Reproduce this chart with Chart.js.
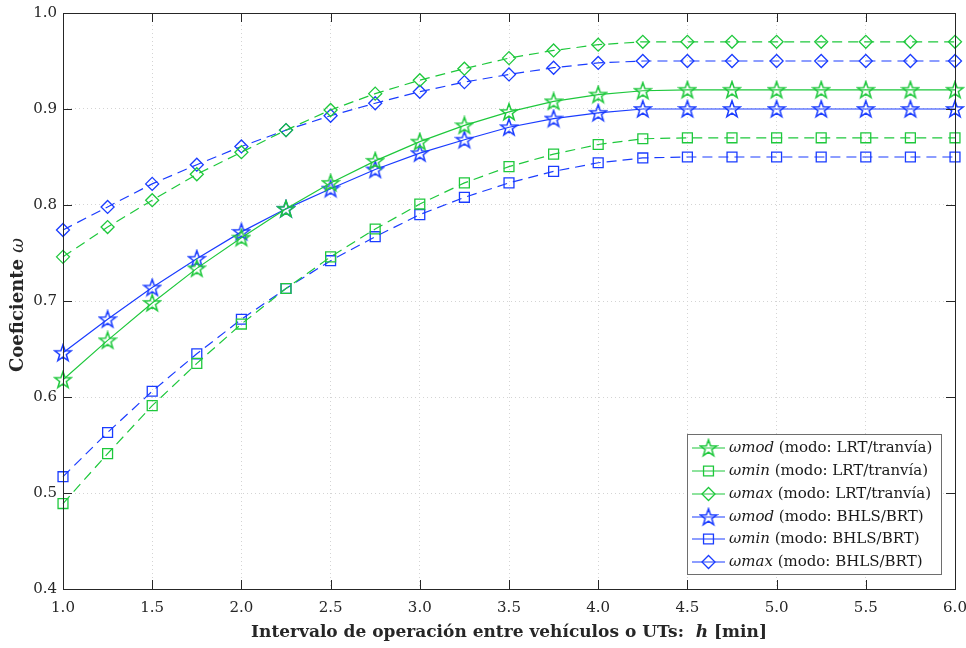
<!DOCTYPE html>
<html>
<head>
<meta charset="utf-8">
<script src="https://cdn.jsdelivr.net/npm/chart.js@4.4.1/dist/chart.umd.min.js"></script>
<style>
  html, body { margin: 0; padding: 0; background: #fff; }
</style>
</head>
<body>
<canvas id="chart" width="966" height="648"></canvas>
<script>
// headway h [min]
var hVals = [1.0, 1.25, 1.5, 1.75, 2.0, 2.25, 2.5, 2.75, 3.0, 3.25, 3.5, 3.75, 4.0, 4.25, 4.5, 4.75, 5.0, 5.25, 5.5, 5.75, 6.0];

var modLRT = [0.618, 0.659, 0.698, 0.734, 0.766, 0.796, 0.823, 0.846, 0.866, 0.883, 0.897, 0.908, 0.915, 0.919, 0.92, 0.92, 0.92, 0.92, 0.92, 0.92, 0.92];
var minLRT = [0.489, 0.541, 0.591, 0.635, 0.676, 0.713, 0.746, 0.775, 0.801, 0.823, 0.840, 0.853, 0.863, 0.869, 0.87, 0.87, 0.87, 0.87, 0.87, 0.87, 0.87];
var maxLRT = [0.746, 0.777, 0.805, 0.832, 0.855, 0.878, 0.899, 0.916, 0.930, 0.942, 0.953, 0.961, 0.967, 0.970, 0.97, 0.97, 0.97, 0.97, 0.97, 0.97, 0.97];
var modBRT = [0.646, 0.681, 0.714, 0.744, 0.772, 0.796, 0.817, 0.837, 0.854, 0.868, 0.881, 0.890, 0.896, 0.900, 0.90, 0.90, 0.90, 0.90, 0.90, 0.90, 0.90];
var minBRT = [0.517, 0.563, 0.606, 0.645, 0.681, 0.713, 0.742, 0.767, 0.790, 0.808, 0.823, 0.835, 0.844, 0.849, 0.85, 0.85, 0.85, 0.85, 0.85, 0.85, 0.85];
var maxBRT = [0.774, 0.798, 0.822, 0.842, 0.861, 0.878, 0.893, 0.906, 0.918, 0.928, 0.936, 0.943, 0.948, 0.950, 0.95, 0.95, 0.95, 0.95, 0.95, 0.95, 0.95];

var seriesNames = ['mod', 'min', 'max', 'mod', 'min', 'max'];
var modeNames = [' (modo: LRT/tranvía)', ' (modo: LRT/tranvía)', ' (modo: LRT/tranvía)',
                 ' (modo: BHLS/BRT)', ' (modo: BHLS/BRT)', ' (modo: BHLS/BRT)'];

var xTicks = [1.0, 1.5, 2.0, 2.5, 3.0, 3.5, 4.0, 4.5, 5.0, 5.5, 6.0];
var yTicks = [0.4, 0.5, 0.6, 0.7, 0.8, 0.9, 1.0];

var GREEN = '#1ec83c';
var BLUE = '#1a3cff';
var SERIF = '"DejaVu Serif", "Liberation Serif", serif';

// five pointed outline star (MATLAB pentagram) as a point image
function makeStar(color) {
    var c = document.createElement('canvas');
    c.width = 20; c.height = 20;
    var g = c.getContext('2d');
    var R = 8.8, r = 3.5, cx = 10, cy = 10.6;
    g.beginPath();
    for (var i = 0; i < 10; i++) {
        var rad = (i % 2 === 0) ? R : r;
        var a = -Math.PI / 2 + i * Math.PI / 5;
        var px = cx + rad * Math.cos(a), py = cy + rad * Math.sin(a);
        if (i === 0) g.moveTo(px, py); else g.lineTo(px, py);
    }
    g.closePath();
    g.strokeStyle = color;
    g.lineWidth = 1.5;
    g.stroke();
    return c;
}
var starG = makeStar(GREEN);
var starB = makeStar(BLUE);

function pts(arr) {
    return arr.map(function (v, i) { return {x: hVals[i], y: v}; });
}

function ds(label, arr, color, style, radius, dashed) {
    return {
        label: label,
        data: pts(arr),
        borderColor: color,
        backgroundColor: 'rgba(0,0,0,0)',
        borderWidth: 1.2,
        borderDash: dashed ? [10, 6] : [],
        tension: 0,
        fill: false,
        clip: false,
        pointStyle: style,
        pointRadius: radius,
        pointHoverRadius: radius,
        pointBorderColor: color,
        pointBackgroundColor: 'rgba(0,0,0,0)',
        pointBorderWidth: 1.3
    };
}

var datasets = [
    ds('ωmod LRT', modLRT, GREEN, starG, 8, false),
    ds('ωmin LRT', minLRT, GREEN, 'rect', 7, true),
    ds('ωmax LRT', maxLRT, GREEN, 'rectRot', 6.5, true),
    ds('ωmod BRT', modBRT, BLUE, starB, 8, false),
    ds('ωmin BRT', minBRT, BLUE, 'rect', 7, true),
    ds('ωmax BRT', maxBRT, BLUE, 'rectRot', 6.5, true)
];

// box, inward ticks, axis titles and legend (MATLAB look)
var decor = {
    id: 'decor',
    afterDraw: function (chart) {
        var ctx = chart.ctx;
        var a = chart.chartArea;
        var xs = chart.scales.x, ys = chart.scales.y;
        ctx.save();
        ctx.strokeStyle = '#262626';
        ctx.lineWidth = 1;
        ctx.strokeRect(Math.round(a.left) + 0.5, Math.round(a.top) + 0.5,
                       Math.round(a.right - a.left), Math.round(a.bottom - a.top));
        ctx.beginPath();
        xTicks.forEach(function (t) {
            var px = Math.round(xs.getPixelForValue(t)) + 0.5;
            ctx.moveTo(px, a.bottom); ctx.lineTo(px, a.bottom - 9);
            ctx.moveTo(px, a.top); ctx.lineTo(px, a.top + 9);
        });
        yTicks.forEach(function (t) {
            var py = Math.round(ys.getPixelForValue(t)) + 0.5;
            ctx.moveTo(a.left, py); ctx.lineTo(a.left + 9, py);
            ctx.moveTo(a.right, py); ctx.lineTo(a.right - 9, py);
        });
        ctx.stroke();

        // x title
        ctx.fillStyle = '#262626';
        ctx.textBaseline = 'middle';
        var parts = [
            ['bold 17px ' + SERIF, 'Intervalo de operación entre vehículos o UTs:  '],
            ['italic bold 17px ' + SERIF, 'h'],
            ['bold 17px ' + SERIF, ' [min]']
        ];
        var w = 0;
        parts.forEach(function (p) { ctx.font = p[0]; w += ctx.measureText(p[1]).width; });
        var x0 = (a.left + a.right) / 2 - w / 2;
        ctx.textAlign = 'left';
        parts.forEach(function (p) { ctx.font = p[0]; ctx.fillText(p[1], x0, 633); x0 += ctx.measureText(p[1]).width; });

        // y title
        ctx.save();
        ctx.translate(18, 305);
        ctx.rotate(-Math.PI / 2);
        var yp = [
            ['bold 18px ' + SERIF, 'Coeficiente '],
            ['italic 18px ' + SERIF, 'ω']
        ];
        w = 0;
        yp.forEach(function (p) { ctx.font = p[0]; w += ctx.measureText(p[1]).width; });
        x0 = -w / 2;
        yp.forEach(function (p) { ctx.font = p[0]; ctx.fillText(p[1], x0, 0); x0 += ctx.measureText(p[1]).width; });
        ctx.restore();

        // legend
        var bx = 687, by = 434, bw = 254, bh = 140;
        ctx.fillStyle = '#ffffff';
        ctx.fillRect(bx, by, bw, bh);
        ctx.strokeStyle = '#6e6e6e';
        ctx.strokeRect(bx + 0.5, by + 0.5, bw, bh);
        var rowY = [448, 471, 494, 517, 539, 562];
        datasets.forEach(function (d, i) {
            var y = rowY[i];
            ctx.save();
            ctx.strokeStyle = d.borderColor;
            ctx.lineWidth = d.borderWidth;
            ctx.beginPath();
            ctx.moveTo(692, y); ctx.lineTo(725, y);
            ctx.stroke();
            ctx.fillStyle = 'rgba(0,0,0,0)';
            ctx.lineWidth = d.pointBorderWidth;
            Chart.helpers.drawPoint(ctx, {pointStyle: d.pointStyle, radius: d.pointRadius, rotation: 0, borderWidth: d.pointBorderWidth}, 708.5, y);
            ctx.restore();
            ctx.fillStyle = '#1a1a1a';
            ctx.textAlign = 'left';
            var tx = 729;
            ctx.font = 'italic 15px ' + SERIF;
            ctx.fillText('ω' + seriesNames[i], tx, y);
            tx += ctx.measureText('ω' + seriesNames[i]).width;
            ctx.font = '15px ' + SERIF;
            ctx.fillText(modeNames[i], tx, y);
        });
        ctx.restore();
    }
};

var chart = new Chart(document.getElementById('chart'), {
    type: 'line',
    data: { datasets: datasets },
    plugins: [decor],
    options: {
        responsive: false,
        animation: false,
        layout: { padding: { top: 13, right: 11, left: 0, bottom: 0 } },
        plugins: { legend: { display: false }, tooltip: { enabled: false } },
        scales: {
            x: {
                type: 'linear', min: 1, max: 6,
                afterFit: function (s) { s.height = 59; s.paddingLeft = 0; s.paddingRight = 0; },
                afterBuildTicks: function (s) { s.ticks = xTicks.map(function (v) { return {value: v}; }); },
                ticks: {
                    padding: 10, color: '#262626', maxRotation: 0,
                    font: { family: SERIF, size: 15 },
                    callback: function (v) { return v.toFixed(1); }
                },
                grid: { color: '#d4d4d4', lineWidth: 1, drawTicks: false },
                border: { display: false, dash: [1, 3] }
            },
            y: {
                type: 'linear', min: 0.4, max: 1.0,
                afterFit: function (s) { s.width = 63; s.paddingTop = 0; s.paddingBottom = 0; },
                afterBuildTicks: function (s) { s.ticks = yTicks.map(function (v) { return {value: v}; }); },
                ticks: {
                    padding: 6, color: '#262626',
                    font: { family: SERIF, size: 15 },
                    callback: function (v) { return v.toFixed(1); }
                },
                grid: { color: '#d4d4d4', lineWidth: 1, drawTicks: false },
                border: { display: false, dash: [1, 3] }
            }
        }
    }
});
</script>
</body>
</html>
